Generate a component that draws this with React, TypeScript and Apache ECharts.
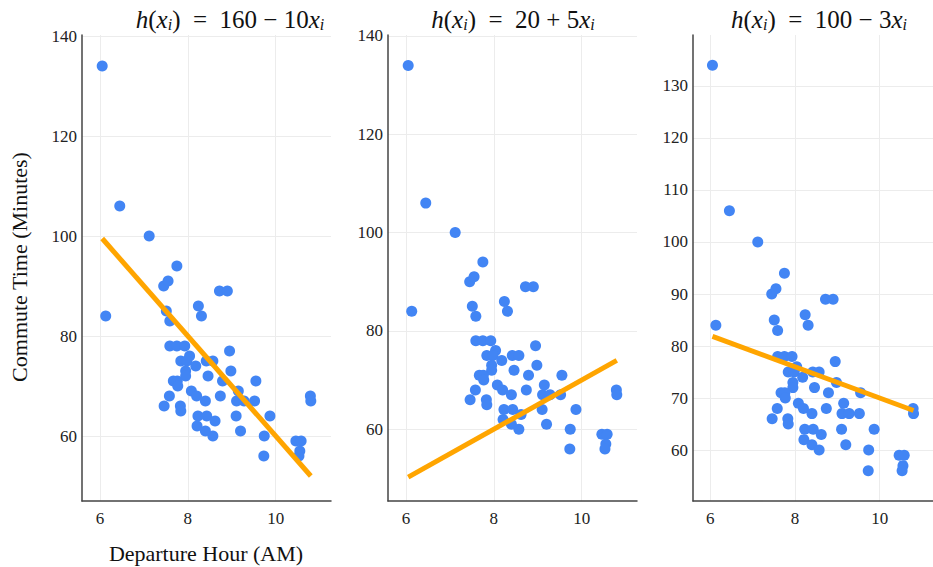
import React, { useEffect, useRef } from "react";
import * as echarts from "echarts";

// Departure hour (AM) and commute time (minutes)
const departHour = [
  6.05, 6.45, 6.13, 7.12, 7.75, 7.45, 7.55, 8.72, 8.9, 8.24,
  8.31, 7.51, 7.59, 7.59, 7.75, 7.93, 8.04, 7.84, 7.98, 8.42,
  8.57, 8.18, 8.95, 7.95, 7.95, 8.98, 8.46, 7.67, 7.76, 7.77,
  8.79, 9.55, 8.08, 8.2, 8.4, 7.58, 7.46, 7.83, 7.84, 8.74,
  9.15, 9.11, 9.28, 9.52, 10.79, 10.8, 8.23, 8.43, 8.62, 8.21,
  8.4, 8.57, 9.1, 9.87, 9.2, 9.74, 9.73, 10.46, 10.58, 10.55, 10.53,
];
const commuteMin = [
  134, 106, 84, 100, 94, 90, 91, 89, 89, 86,
  84, 85, 83, 78, 78, 78, 76, 75, 75, 75,
  75, 74, 77, 73, 72, 73, 72, 71, 71, 70,
  71, 71, 69, 68, 67, 68, 66, 66, 65, 68,
  69, 67, 67, 67, 68, 67, 64, 64, 63, 62,
  61, 60, 64, 64, 61, 60, 56, 59, 59, 57, 56,
];

// Model lines (endpoints), one per panel
const lineX = [6.05, 10.8];
const line1Y = [99.5, 52];
const line2Y = [50.25, 74];
const line3Y = [81.85, 67.6];

const xTicks = [6, 8, 10];
const yTicks1 = [60, 80, 100, 120, 140];
const yTicks2 = [60, 80, 100, 120, 140];
const yTicks3 = [60, 70, 80, 90, 100, 110, 120, 130];

const titleConst = ["160 − 10", "20 + 5", "100 − 3"];
const xTitle = "Departure Hour (AM)";
const yTitle = "Commute Time (Minutes)";

export default function App() {
  const ref = useRef<HTMLDivElement>(null);
  useEffect(() => {
    if (!ref.current) return;
    const chart = echarts.init(ref.current, undefined, { renderer: "svg" });
    const serif = "Liberation Serif";
    const lefts = [82, 388, 693];
    const yMins = [47.0, 45.4, 50.2];
    const yMaxs = [140.2, 140.2, 139.8];
    const yTickSets = [yTicks1, yTicks2, yTicks3];
    const lines = [line1Y, line2Y, line3Y];
    const titleCenters = [230, 513, 819];
    const pts = departHour.map((x, i) => [x, commuteMin[i]]);

    const grids = lefts.map((l) => ({ left: l, top: 35, width: 249, height: 466 }));
    const xAxes = lefts.map((_, i) => ({
      type: "value",
      gridIndex: i,
      min: 5.59,
      max: 11.26,
      axisLine: { show: true, lineStyle: { color: "#444", width: 1.5 } },
      axisTick: { show: false, customValues: xTicks },
      axisLabel: {
        customValues: xTicks,
        color: "#222",
        fontFamily: serif,
        fontSize: 17,
        margin: 9,
      },
      splitLine: { show: true, lineStyle: { color: "#ececec", width: 1 } },
    }));
    const yAxes = lefts.map((_, i) => ({
      type: "value",
      gridIndex: i,
      min: yMins[i],
      max: yMaxs[i],
      axisLine: { show: true, lineStyle: { color: "#444", width: 1.5 } },
      axisTick: { show: false, customValues: yTickSets[i] },
      axisLabel: {
        customValues: yTickSets[i],
        color: "#222",
        fontFamily: serif,
        fontSize: 17,
        margin: 5,
      },
      splitLine: { show: true, lineStyle: { color: "#ececec", width: 1 } },
    }));
    const series: any[] = [];
    lefts.forEach((_, i) => {
      series.push({
        type: "scatter",
        xAxisIndex: i,
        yAxisIndex: i,
        data: pts,
        symbolSize: 11,
        itemStyle: { color: "#4285F4", opacity: 1 },
        z: 2,
      });
      series.push({
        type: "line",
        xAxisIndex: i,
        yAxisIndex: i,
        data: lineX.map((x, k) => [x, lines[i][k]]),
        showSymbol: false,
        symbol: "none",
        lineStyle: { color: "#FFA500", width: 5 },
        z: 3,
      });
    });

    const rich = {
      i: { fontStyle: "italic", fontFamily: serif, fontSize: 25, fill: "#111", color: "#111" },
      n: { fontFamily: serif, fontSize: 25, fill: "#111", color: "#111" },
      s: { fontStyle: "italic", fontFamily: serif, fontSize: 16, fill: "#111", color: "#111", padding: [10, 0, 0, 0] },
    };
    const graphics: any[] = titleCenters.map((cx, i) => ({
      type: "text",
      x: cx,
      y: 19,
      style: {
        text: `{i|h}{n|(}{i|x}{s|i}{n|)  =  ${titleConst[i]}}{i|x}{s|i}`,
        rich,
        align: "center",
        verticalAlign: "middle",
        fontFamily: serif,
        fontSize: 25,
        fill: "#111",
      },
    }));
    graphics.push({
      type: "text",
      x: 206,
      y: 553,
      style: {
        text: xTitle,
        fontFamily: serif,
        fontSize: 22,
        fill: "#111",
        align: "center",
        verticalAlign: "middle",
      },
    });
    graphics.push({
      type: "text",
      x: 19,
      y: 267,
      rotation: Math.PI / 2,
      style: {
        text: yTitle,
        fontFamily: serif,
        fontSize: 22,
        fill: "#111",
        align: "center",
        verticalAlign: "middle",
      },
    });

    chart.setOption({
      animation: false,
      backgroundColor: "#ffffff",
      textStyle: { fontFamily: serif },
      grid: grids,
      xAxis: xAxes,
      yAxis: yAxes,
      series,
      graphic: graphics,
    });
    return () => chart.dispose();
  }, []);
  return (
    <div
      ref={ref}
      style={{ position: "fixed", left: 0, top: 0, width: 933, height: 567 }}
    />
  );
}
